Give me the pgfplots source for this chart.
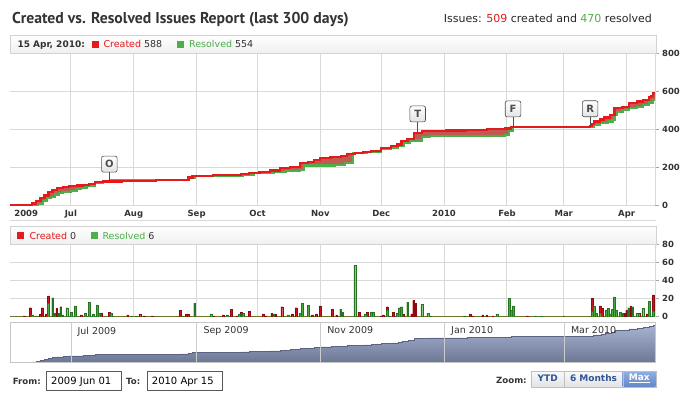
\documentclass[border=0pt]{standalone}
\usepackage{pgfplots}
\pgfplotsset{compat=1.18}
\usepackage{pgfplotstable}
\usepgfplotslibrary{fillbetween}
\usepackage{fontspec}
\setmainfont{DejaVu Sans}
\newfontfamily\titlefont{PT Sans}
\definecolor{cr}{RGB}{228,26,28}
\definecolor{rs}{RGB}{77,175,74}
\definecolor{fillc}{RGB}{188,82,72}
\definecolor{gridc}{RGB}{216,218,216}
\definecolor{txt}{RGB}{51,51,51}
\definecolor{barR}{RGB}{200,22,30}
\definecolor{barRd}{RGB}{140,10,18}
\definecolor{barG}{RGB}{72,170,62}
\definecolor{barGd}{RGB}{38,115,34}
\definecolor{navtop}{RGB}{168,178,208}
\definecolor{navbot}{RGB}{108,120,150}
\definecolor{navline}{RGB}{90,100,130}
\definecolor{btntxt}{RGB}{50,85,150}
\definecolor{maxbg1}{RGB}{145,175,225}
\definecolor{maxbg2}{RGB}{100,135,200}
\definecolor{olive0}{RGB}{110,115,50}

\pgfplotstableread{
d v
0 0
9 0
11 8
13 20
15 35
17 50
19 68
21 80
23 88
26 96
29 101
33 103
36 106
39 112
42 122
46 124
55 126
62 128
72 130
84 133
88 145
90 153
100 156
108 160
114 165
118 170
123 175
128 182
133 193
138 202
143 219
147 228
150 238
153 246
158 252
163 260
166 267
170 273
174 277
178 285
183 298
188 310
191 318
193 337
196 346
199 381
203 388
206 391
215 392
225 396
235 400
244 403
247 412
286 414
287 425
288 440
291 450
293 461
296 474
298 512
302 517
305 535
309 545
312 553
315 570
316 575
317 588
318 588
}\created

\pgfplotstableread{
d v
0 0
12 0
14 5
16 20
18 35
20 44
22 55
24 62
26 68
30 75
33 85
35 92
38 98
42 116
46 126
50 130
61 131
84 133
88 145
91 152
110 155
115 160
120 167
123 170
130 175
136 180
143 185
145 208
160 210
165 219
169 272
176 277
183 296
188 302
191 310
194 326
197 340
203 360
207 362
214 363
230 365
244 368
246 390
248 409
286 412
288 421
291 430
295 440
297 447
298 475
299 491
302 500
305 509
309 515
312 526
315 540
317 554
318 554
}\resolved

\pgfplotstableread{
d v
7 1
10 10
15 3
16 10
18 3
19 23
23 9
25 11
35 2
45 4
49 5
58 2
64 3
66 1
70 1
84 7
87 3
88 3
100 1
105 2
109 8
112 1
114 5
118 6
125 3
126 1
129 4
131 3
134 11
139 3
141 10
149 2
151 3
153 12
159 8
161 2
172 5
176 5
183 1
184 2
186 11
189 5
194 3
198 3
199 18
200 15
227 3
228 1
233 2
235 2
238 1
255 1
287 20
291 12
292 9
303 4
304 7
306 12
310 4
314 3
317 24
}\createdbars

\pgfplotstableread{
d v
11 2
13 1
19 15
21 21
22 4
24 4
25 9
26 2
28 10
30 5
32 12
37 4
39 16
41 3
43 13
44 4
50 4
60 1
62 1
85 1
91 15
99 3
107 2
113 3
115 4
130 3
137 2
143 4
144 15
147 13
163 8
164 5
170 57
175 3
178 5
179 5
186 7
187 1
191 4
192 10
193 11
196 16
203 14
206 4
207 1
224 1
240 3
246 20
247 7
248 12
259 1
262 1
273 1
287 6
288 12
289 4
291 4
294 7
295 9
296 3
297 8
298 22
299 7
301 5
302 4
305 10
307 11
309 4
312 9
315 17
317 6
}\resolvedbars

\pgfplotsset{
  panel/.style={
    scale only axis, width=645pt, xmin=0, xmax=318,
    axis x line*=bottom, axis y line*=right,
    xtick={30,61,92,122,153,183,214,245,273,304},
    xmajorgrids, ymajorgrids, grid style={gridc, line width=0.9pt},
    tick align=outside, major tick length=4.3pt,
    xtick style={draw=none},
    ytick style={draw=gray!70, line width=0.8pt},
    y axis line style={draw=gridc, line width=0.9pt},
    yticklabel style={font=\bfseries\fontsize{8.5}{10}\selectfont, text=txt, anchor=west, inner sep=0pt, xshift=2.6pt},
    /pgf/number format/assume math mode=true,
  },
}
\tikzset{
  flag/.style={draw=gray!60!black, rounded corners=2pt, top color=white, bottom color=gray!22,
    minimum width=15.6pt, minimum height=16pt, inner sep=0pt, line width=0.6pt,
    font=\bfseries\fontsize{10}{10}\selectfont},
}

\begin{document}
\begin{tikzpicture}

% ---------- top panel ----------
\begin{axis}[panel, at={(10pt,195pt)}, anchor=south west, height=152pt,
  ymin=0, ymax=800, ytick={0,200,400,600,800},
  x axis line style={draw=gridc, line width=0.9pt},
  xticklabels={Jul,Aug,Sep,Oct,Nov,Dec,2010,Feb,Mar,Apr},
  extra x ticks={8}, extra x tick labels={2009}, extra x tick style={grid=none},
  xticklabel style={font=\bfseries\fontsize{8.5}{10}\selectfont, text=txt, inner sep=0pt, anchor=north, yshift=-0.3pt, text height=6.3pt, text depth=1.7pt},
]
\addplot[const plot, draw=none, name path=C] table[x=d,y=v] {\created};
\addplot[const plot, draw=none, name path=R] table[x=d,y=v] {\resolved};
\addplot[fillc, fill opacity=0.95] fill between[of=C and R];
\addplot[const plot, rs, line width=2.2pt] table[x=d,y=v] {\resolved};
\addplot[const plot, cr, line width=2.2pt] table[x=d,y=v] {\created};
\draw[gray!60!black, line width=0.6pt] (axis cs:49,126) -- ++(0,8.6pt) node[flag, anchor=south] {O};
\draw[gray!60!black, line width=0.6pt] (axis cs:201,383) -- ++(0,10pt) node[flag, anchor=south] {T};
\draw[gray!60!black, line width=0.6pt] (axis cs:248,413) -- ++(0,9.3pt) node[flag, anchor=south] {F};
\draw[gray!60!black, line width=0.6pt] (axis cs:286,414) -- ++(0,9.3pt) node[flag, anchor=south] {R};
\end{axis}

% ---------- bottom (daily) panel ----------
\begin{axis}[panel, at={(10pt,83.3pt)}, anchor=south west, height=72.4pt,
  ymin=0, ymax=80, ytick={0,20,40,60,80},
  x axis line style={draw=olive0, line width=1pt},
  xticklabels={},
]
\addplot[ybar, bar shift=0pt, bar width=1.8pt, fill=barR, draw=barRd, line width=0.3pt] table[x=d,y=v] {\createdbars};
\addplot[ybar, bar shift=0pt, bar width=1.8pt, fill=barG, draw=barGd, line width=0.3pt] table[x=d,y=v] {\resolvedbars};
\end{axis}

% ---------- navigator ----------
\begin{axis}[at={(10pt,37.7pt)}, anchor=south west, scale only axis, width=645.7pt, height=40pt,
  xmin=0, xmax=318, ymin=0, ymax=640, axis on top,
  xtick={30,92,153,214,273},
  xticklabels={Jul 2009,Sep 2009,Nov 2009,Jan 2010,Mar 2010},
  xmajorgrids, grid style={gray!40, line width=0.8pt},
  ytick=\empty, major tick length=0pt,
  xticklabel pos=upper,
  xticklabel style={font=\fontsize{9.5}{10}\selectfont, text=txt, anchor=north west, inner sep=0pt, xshift=6.5pt, yshift=-4.3pt},
  axis line style={draw=gray!45, line width=0.8pt},
]
\addplot[const plot, draw=navline, line width=0.5pt, top color=navtop, bottom color=navbot] table[x=d,y=v] {\created} \closedcycle;
\end{axis}

\begin{scope}[x=1pt,y=1pt]
% title and summary
\node[anchor=base west, inner sep=0pt, text=txt] at (12,377) {\titlefont\bfseries\fontsize{15.7}{17}\selectfont Created vs. Resolved Issues Report (last 300 days)};
\node[anchor=base east, inner sep=0pt, text=black!85] at (652,377.5) {\fontsize{11}{12}\selectfont Issues: {\color{cr}509} created and {\color{rs}470} resolved};

% top header
\draw[gray!35, top color=white, bottom color=gray!12] (10,347) rectangle (656,365);
\node[anchor=base west, inner sep=0pt, text=txt] at (17.3,352.5) {\bfseries\fontsize{9}{10}\selectfont 15 Apr, 2010:};
\fill[cr] (91.7,352.3) rectangle (98.7,359.3);
\node[anchor=base west, inner sep=0pt, text=txt] at (103.3,352.5) {\fontsize{9.5}{10}\selectfont{\color{cr}Created} 588};
\fill[rs] (176.7,352.3) rectangle (183.7,359.3);
\node[anchor=base west, inner sep=0pt, text=txt] at (189,352.5) {\fontsize{9.5}{10}\selectfont{\color{rs}Resolved} 554};

% separator
\draw[gray!30, line width=0.9pt] (10,179.5) -- (656,179.5);

% bottom header
\draw[gray!35, top color=white, bottom color=gray!12] (10,155.7) rectangle (656,174);
\fill[cr] (17.3,160.8) rectangle (24.3,167.8);
\node[anchor=base west, inner sep=0pt, text=txt] at (29.3,161) {\fontsize{9.5}{10}\selectfont{\color{cr}Created} 0};
\fill[rs] (90.7,160.8) rectangle (97.7,167.8);
\node[anchor=base west, inner sep=0pt, text=txt] at (102.3,161) {\fontsize{9.5}{10}\selectfont{\color{rs}Resolved} 6};

% range inputs
\node[anchor=base west, inner sep=0pt, text=txt] at (12.7,15.8) {\bfseries\fontsize{8.6}{10}\selectfont From:};
\draw[gray!70!black, line width=0.6pt, fill=white] (46,9.3) rectangle (121.7,29);
\node[anchor=base west, inner sep=0pt, text=black] at (51,15.3) {\fontsize{10}{11}\selectfont 2009 Jun 01};
\node[anchor=base west, inner sep=0pt, text=txt] at (126,15.8) {\bfseries\fontsize{8.6}{10}\selectfont To:};
\draw[gray!70!black, line width=0.6pt, fill=white] (147.3,9.3) rectangle (222.3,29);
\node[anchor=base west, inner sep=0pt, text=black] at (151.7,15.3) {\fontsize{10}{11}\selectfont 2010 Apr 15};

% zoom buttons
\node[anchor=base west, inner sep=0pt, text=txt] at (496,16.5) {\bfseries\fontsize{8.6}{10}\selectfont Zoom:};
\draw[gray!50, top color=gray!4, bottom color=gray!22] (531,13.3) rectangle (564.3,29);
\draw[gray!50, top color=gray!4, bottom color=gray!22] (564.3,13.3) rectangle (622.7,29);
\draw[gray!50, top color=maxbg1, bottom color=maxbg2] (622.7,13.3) rectangle (655.7,29);
\node[text=btntxt, inner sep=0pt] at (547.65,21.6) {\bfseries\fontsize{9}{10}\selectfont YTD};
\node[text=btntxt, inner sep=0pt] at (593.5,21.6) {\bfseries\fontsize{9}{10}\selectfont 6 Months};
\node[text=white, inner sep=0pt] at (639.2,21.6) {\bfseries\fontsize{9}{10}\selectfont \underline{Max}};
\end{scope}
\pgfresetboundingbox
\path[use as bounding box] (0,0) rectangle (700pt,400pt);
\end{tikzpicture}
\end{document}
